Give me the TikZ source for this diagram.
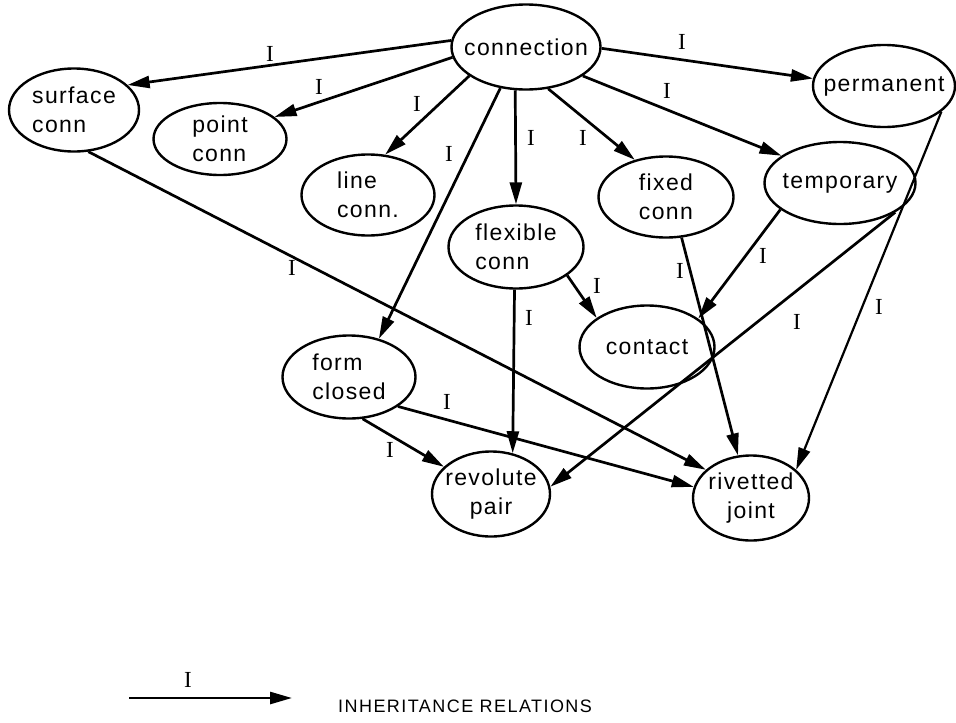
\documentclass[tikz,border=0pt]{standalone}
\usepackage{fontspec}
\setmainfont{Liberation Sans}
\newfontfamily\lblfont{Liberation Serif}
\newfontfamily\nodefont[LetterSpace=6]{Liberation Sans}
\newfontfamily\legfont[LetterSpace=8]{Liberation Sans}
\usetikzlibrary{shapes.geometric,arrows.meta}

\tikzset{
  obj/.style={ellipse, draw, line width=2.4pt, inner sep=-30pt, align=left,
    font=\nodefont\fontsize{23}{29}\selectfont},
  rel/.style={line width=2.7pt, -{Triangle[length=22pt,width=12pt]}},
  ilbl/.style={font=\lblfont\fontsize{23}{23}\selectfont, inner sep=0pt},
}

\begin{document}
\begin{tikzpicture}[x=1pt,y=-1pt]
\useasboundingbox (0,0) rectangle (956,723);

% classes
\node[obj, minimum width=149pt, minimum height=85pt] (conn) at (526,47) {connection};
\node[obj, minimum width=130pt, minimum height=83pt] (surf) at (74,110) {surface\\conn};
\node[obj, minimum width=133pt, minimum height=72pt] (point) at (220,139) {point\\conn};
\node[obj, minimum width=133pt, minimum height=81pt] (line) at (368,195) {line\\conn.};
\node[obj, minimum width=142pt, minimum height=82pt] (perm) at (884,86) {permanent};
\node[obj, minimum width=135pt, minimum height=81pt] (fixed) at (666,197) {fixed\\conn};
\node[obj, minimum width=151pt, minimum height=82pt] (temp) at (840,183) {temporary};
\node[obj, minimum width=135pt, minimum height=83pt] (flex) at (516,247) {flexible\\conn};
\node[obj, minimum width=135pt, minimum height=83pt] (contact) at (647,347) {contact};
\node[obj, minimum width=133pt, minimum height=83pt] (form) at (349,377) {form\\closed};
\node[obj, align=center, minimum width=118pt, minimum height=85pt] (rev) at (491,494) {revolute\\pair};
\node[obj, align=center, minimum width=116pt, minimum height=85pt] (rivet) at (751,498) {rivetted\\joint};

% inheritance relations
\draw[rel] (conn.175) -- (surf.25);
\draw[rel] (conn.188) -- (point.22);
\draw[rel] (conn.207) -- (line.67);
\draw[rel] (conn.238) -- (form.52);
\draw[rel] (conn.256) -- (flex.north);
\draw[rel] (conn.298) -- (fixed.130);
\draw[rel] (conn.333) -- (temp.155);
\draw[rel] (conn.359) -- (perm.174);
\draw[rel] (flex.331) -- (contact.150);
\draw[rel] (flex.268) -- (rev.62);
\draw[rel] (temp.204) -- (contact.29);
\draw[rel] (temp.332) -- (rev.7);
\draw[rel] (fixed.291) -- (rivet.107);
\draw[rel, line width=2.2pt] (perm.336) -- (rivet.32);
\draw[rel] (surf.289) -- (rivet.148);
\draw[rel] (form.329) -- (rivet.169);
\draw[rel] (form.288) -- (rev.150);

% relation labels
\node[ilbl] (l1) at (270,54) {I};
\node[ilbl] (l2) at (319,87) {I};
\node[ilbl] (l3) at (417,104) {I};
\node[ilbl] (l4) at (449,154) {I};
\node[ilbl] (l5) at (531,138) {I};
\node[ilbl] (l6) at (583,138) {I};
\node[ilbl] (l7) at (667,91) {I};
\node[ilbl] (l8) at (682,42) {I};
\node[ilbl] (l9) at (597,286) {I};
\node[ilbl] (l10) at (529,318) {I};
\node[ilbl] (l11) at (763,256) {I};
\node[ilbl] (l12) at (797,322) {I};
\node[ilbl] (l13) at (680,271) {I};
\node[ilbl] (l14) at (879,307) {I};
\node[ilbl] (l15) at (292,268) {I};
\node[ilbl] (l16) at (447,402) {I};
\node[ilbl] (l17) at (390,450) {I};

% legend
\coordinate (legA) at (129,698);
\coordinate (legB) at (292,698);
\draw[rel] (legA) -- (legB);
\node[ilbl] (legI) at (188,680) {I};
\node[anchor=base west, inner sep=0pt, font=\legfont\fontsize{18}{18}\selectfont] (legtext) at (338,712) {INHERITANCE RELATIONS};
\end{tikzpicture}
\end{document}
